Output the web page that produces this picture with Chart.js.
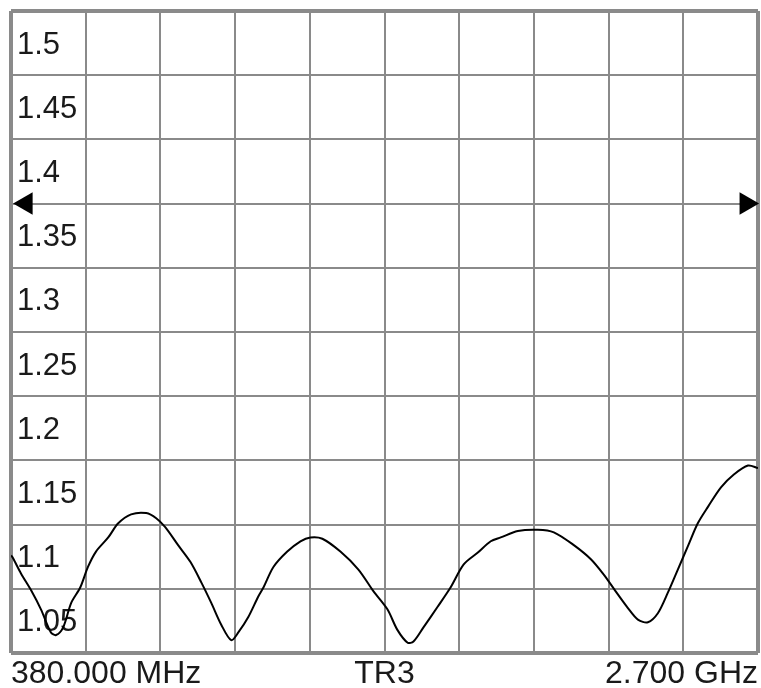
<!DOCTYPE html>
<html lang="en">
<head>
<meta charset="UTF-8">
<title>VSWR trace TR3</title>
<script src="https://cdn.jsdelivr.net/npm/chart.js@4.4.0/dist/chart.umd.min.js"></script>
<style>
  * { box-sizing: border-box; margin: 0; padding: 0; }
  html, body { background: #fff; overflow: hidden; width: 761px; height: 688px; }
  canvas { display: block; }
</style>
</head>
<body>
<canvas id="trace" width="761" height="688"></canvas>
<script>
// trace, MHz / VSWR
const freqMHz = [380, 386, 411, 442, 473, 504, 520, 542, 567, 595, 619, 644, 682, 713, 753, 800, 831, 859, 899, 937,
  971, 1002, 1033, 1064, 1086, 1117, 1148, 1164, 1195, 1238, 1279, 1310, 1347, 1403, 1459, 1506, 1549, 1580, 1612, 1630,
  1661, 1705, 1745, 1786, 1829, 1870, 1901, 1954, 2016, 2066, 2128, 2181, 2221, 2258, 2296, 2327, 2358, 2389, 2420, 2451,
  2482, 2513, 2545, 2585, 2625, 2669, 2700];
const vswr = [1.076, 1.074, 1.062, 1.049, 1.034, 1.016, 1.014, 1.020, 1.039, 1.051, 1.067, 1.079, 1.090, 1.101, 1.108, 1.109, 1.105, 1.098, 1.084, 1.071,
  1.055, 1.039, 1.022, 1.010, 1.016, 1.028, 1.044, 1.051, 1.067, 1.079, 1.087, 1.090, 1.089, 1.079, 1.065, 1.048, 1.034, 1.018, 1.008, 1.009,
  1.020, 1.036, 1.051, 1.069, 1.078, 1.087, 1.090, 1.095, 1.096, 1.094, 1.084, 1.073, 1.061, 1.048, 1.035, 1.026, 1.024, 1.031, 1.047, 1.065,
  1.083, 1.101, 1.114, 1.129, 1.139, 1.146, 1.144];

// reference level arrows at both edges
const markerFreq = [427, 2663];
const markerLevel = [1.35, 1.35];
const markerRotation = [270, 90];

const yTickLabels = ['', '1.05', '1.1', '1.15', '1.2', '1.25', '1.3', '1.35', '1.4', '1.45', '1.5'];
const xTickLabels = ['380.000 MHz', '', '', '', '', 'TR3', '', '', '', '', '2.700 GHz'];

const gridColor = '#8a8a8a';
const edgeWidth = c => (c.index === 0 || c.index === 10) ? 4 : 2;
const family = "'Liberation Sans', Arial, sans-serif";

new Chart(document.getElementById('trace'), {
  type: 'line',
  data: {
    datasets: [
      {
        data: freqMHz.map((f, i) => ({ x: f, y: vswr[i] })),
        borderColor: '#000',
        borderWidth: 2,
        pointRadius: 0,
        tension: 0.3,
        fill: false
      },
      {
        data: markerFreq.map((f, i) => ({ x: f, y: markerLevel[i] })),
        showLine: false,
        pointStyle: 'triangle',
        pointRadius: 13,
        pointRotation: markerRotation,
        pointBackgroundColor: '#000',
        pointBorderWidth: 0,
        clip: false
      }
    ]
  },
  options: {
    responsive: false,
    devicePixelRatio: 1,
    animation: false,
    // no auto padding: the 13px arrows would shrink the grid
    layout: { autoPadding: false, padding: { left: 11, right: 3, top: 11, bottom: 1 } },
    plugins: { legend: { display: false }, tooltip: { enabled: false } },
    scales: {
      x: {
        type: 'linear',
        min: 380,
        max: 2700,
        border: { display: false },
        grid: { color: gridColor, lineWidth: edgeWidth, drawTicks: false },
        ticks: {
          stepSize: 232,
          autoSkip: false,
          maxRotation: 0,
          minRotation: 0,
          align: 'inner',
          padding: 5,
          color: '#1a1a1a',
          font: { family, size: 32, lineHeight: 1 },
          callback: (v, i) => xTickLabels[i]
        },
        afterFit: s => { s.height = 34; s.paddingLeft = 0; s.paddingRight = 0; }
      },
      y: {
        min: 1.0,
        max: 1.5,
        border: { display: false },
        grid: { color: gridColor, lineWidth: edgeWidth, drawTicks: false },
        ticks: {
          stepSize: 0.05,
          autoSkip: false,
          mirror: true,
          padding: 6,
          labelOffset: 34,
          color: '#1a1a1a',
          font: { family, size: 31, lineHeight: 0.5 },
          callback: (v, i) => yTickLabels[i]
        },
        afterFit: s => { s.width = 0; s.paddingTop = 0; s.paddingBottom = 0; }
      }
    }
  }
});
</script>
</body>
</html>
